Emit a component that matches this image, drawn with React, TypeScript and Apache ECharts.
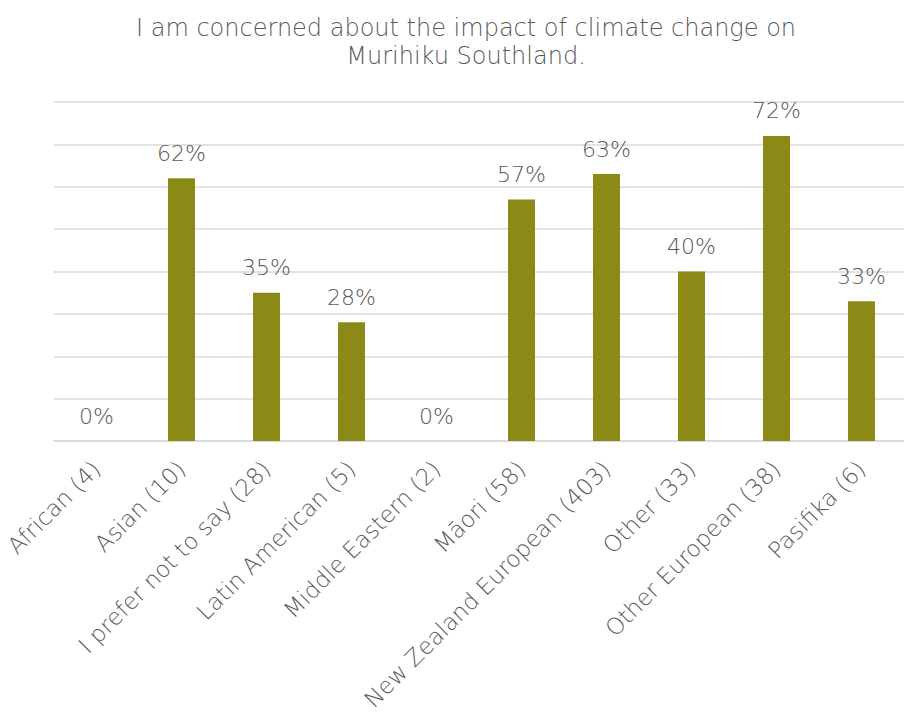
import React, { useEffect, useRef } from "react";
import * as echarts from "echarts";

const categories = [
  "African (4)",
  "Asian (10)",
  "I prefer not to say (28)",
  "Latin American (5)",
  "Middle Eastern (2)",
  "Māori (58)",
  "New Zealand European (403)",
  "Other (33)",
  "Other European (38)",
  "Pasifika (6)",
];
const values = [0, 62, 35, 28, 0, 57, 63, 40, 72, 33];
const titleText = "I am concerned about the impact of climate change on\nMurihiku Southland.";

const FONT = "'DejaVu Sans', sans-serif";
const TEXT = "#595959";

export default function App() {
  const ref = useRef<HTMLDivElement>(null);
  useEffect(() => {
    if (!ref.current) return;
    const chart = echarts.init(ref.current, null, { renderer: "svg" });
    chart.setOption({
      animation: false,
      backgroundColor: "#ffffff",
      title: {
        text: titleText,
        left: 461,
        top: 9,
        textAlign: "center",
        textStyle: {
          fontFamily: FONT,
          fontWeight: 200,
          fontSize: 24,
          lineHeight: 28,
          color: TEXT,
        },
      },
      grid: { left: 54, right: -15, top: 102, bottom: 275, containLabel: false },
      xAxis: {
        type: "category",
        data: categories,
        axisLine: { lineStyle: { color: "#d9d9d9", width: 1.5 } },
        axisTick: { show: false },
        axisLabel: {
          rotate: 45,
          interval: 0,
          margin: 24,
          fontFamily: FONT,
          fontWeight: 200,
          fontSize: 23,
          color: TEXT,
        },
      },
      yAxis: {
        type: "value",
        min: 0,
        max: 80,
        interval: 10,
        axisLabel: { show: false },
        axisLine: { show: false },
        axisTick: { show: false },
        splitLine: { lineStyle: { color: "#d9d9d9", width: 1.5 } },
      },
      series: [
        {
          type: "bar",
          data: values,
          barWidth: 27,
          itemStyle: { color: "#8c8a17" },
          label: {
            show: true,
            position: "top",
            distance: 14,
            formatter: "{c}%",
            fontFamily: FONT,
            fontWeight: 200,
            fontSize: 22,
            color: TEXT,
          },
        },
      ],
    });
    return () => chart.dispose();
  }, []);
  return (
    <div
      ref={ref}
      style={{ position: "fixed", left: 0, top: 0, width: 904, height: 716 }}
    />
  );
}
